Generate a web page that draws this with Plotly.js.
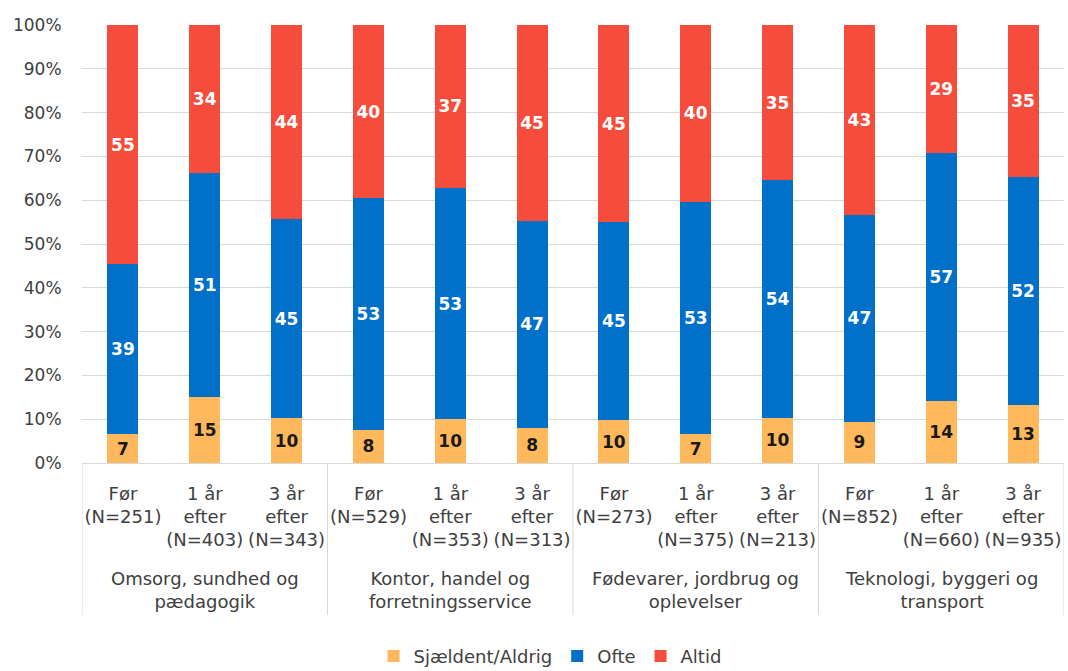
<!DOCTYPE html>
<html>
<head>
<meta charset="utf-8">
<script src="https://cdn.plot.ly/plotly-3.0.1.min.js"></script>
<style>
  html, body { margin: 0; padding: 0; background: #ffffff; }
  #chart { width: 1068px; height: 671px; }
</style>
</head>
<body>
<div id="chart"></div>
<script>
// Period label for each bar (tick labels)
const periodLabels = [
  "Før<br>(N=251)", "1 år<br>efter<br>(N=403)", "3 år<br>efter<br>(N=343)",
  "Før<br>(N=529)", "1 år<br>efter<br>(N=353)", "3 år<br>efter<br>(N=313)",
  "Før<br>(N=273)", "1 år<br>efter<br>(N=375)", "3 år<br>efter<br>(N=213)",
  "Før<br>(N=852)", "1 år<br>efter<br>(N=660)", "3 år<br>efter<br>(N=935)"
];
// Sector groups: label and the bars (indices) each one spans
const groupNames = [
  "Omsorg, sundhed og<br>pædagogik",
  "Kontor, handel og<br>forretningsservice",
  "Fødevarer, jordbrug og<br>oplevelser",
  "Teknologi, byggeri og<br>transport"
];
const groupFirstBar = [0, 3, 6, 9];
const groupLastBar  = [2, 5, 8, 11];

// Shares in percent
const sjaeldentAldrig = [6.6, 15.1, 10.2, 7.6, 10.0, 8.0, 9.8, 6.6, 10.3, 9.4, 14.2, 13.2];
const ofte            = [38.8, 51.1, 45.4, 52.9, 52.8, 47.3, 45.2, 53.0, 54.3, 47.2, 56.6, 52.1];
const altid           = [54.6, 33.8, 44.4, 39.5, 37.2, 44.7, 45.0, 40.4, 35.4, 43.4, 29.2, 34.7];

const seriesNames = ["Sjældent/Aldrig", "Ofte", "Altid"];
const seriesColors = ["#FFB85C", "#0070C8", "#F64C3C"];
const labelColors = ["#1a1a1a", "#ffffff", "#ffffff"];

const FONT = "DejaVu Sans, Liberation Sans, Arial, sans-serif";
const TXT = "#404040";
const LINE = "#d9d9d9";

const traces = [sjaeldentAldrig, ofte, altid].map((vals, i) => ({
  type: "bar",
  name: seriesNames[i],
  x: periodLabels,
  y: vals,
  width: 0.38,
  marker: { color: seriesColors[i], line: { width: 0 } },
  texttemplate: "%{y:.0f}",
  textposition: "inside",
  insidetextanchor: "middle",
  textangle: 0,
  constraintext: "none",
  textfont: { family: FONT, size: 17, color: labelColors[i], weight: "bold" },
  hoverinfo: "skip"
}));

// Group separators: at the outer edges and between groups (category positions)
const shapes = [];
const dividerPos = [groupFirstBar[0] - 0.5].concat(groupLastBar.map(v => v + 0.5));
dividerPos.forEach(p => shapes.push({
  type: "line", xref: "x", yref: "paper",
  x0: p, x1: p, y0: 0, y1: -0.347,
  line: { color: LINE, width: 1 }, layer: "below"
}));

// Group labels centred under each group
const annotations = groupNames.map((g, k) => ({
  xref: "x", yref: "paper",
  x: (groupFirstBar[k] + groupLastBar[k]) / 2,
  y: -0.236,
  xanchor: "center", yanchor: "top",
  text: g,
  showarrow: false,
  align: "center",
  font: { family: FONT, size: 18, color: TXT }
}));

const layout = {
  width: 1068,
  height: 671,
  margin: { l: 82, r: 4, t: 25, b: 208 },
  paper_bgcolor: "#ffffff",
  plot_bgcolor: "#ffffff",
  barmode: "stack",
  showlegend: true,
  font: { family: FONT, size: 17, color: TXT },
  xaxis: {
    type: "category",
    range: [-0.5, 11.5],
    showline: true,
    linecolor: LINE,
    linewidth: 1,
    showgrid: false,
    ticks: "outside",
    ticklen: 14,
    tickcolor: "rgba(0,0,0,0)",
    tickfont: { family: FONT, size: 18, color: TXT },
    tickangle: 0,
    fixedrange: true
  },
  yaxis: {
    range: [0, 100],
    dtick: 10,
    tick0: 0,
    ticksuffix: "%",
    showgrid: true,
    gridcolor: LINE,
    gridwidth: 1,
    zeroline: false,
    showline: false,
    ticks: "outside",
    ticklen: 16,
    tickcolor: "rgba(0,0,0,0)",
    tickfont: { family: FONT, size: 17, color: TXT },
    fixedrange: true
  },
  shapes: shapes,
  annotations: annotations,
  legend: {
    orientation: "h",
    traceorder: "normal",
    xref: "container",
    yref: "container",
    x: 0.515,
    xanchor: "center",
    y: 0.022,
    yanchor: "middle",
    font: { family: FONT, size: 18, color: TXT },
    bgcolor: "rgba(0,0,0,0)"
  }
};

Plotly.newPlot("chart", traces, layout, { displayModeBar: false, staticPlot: true });
</script>
</body>
</html>
